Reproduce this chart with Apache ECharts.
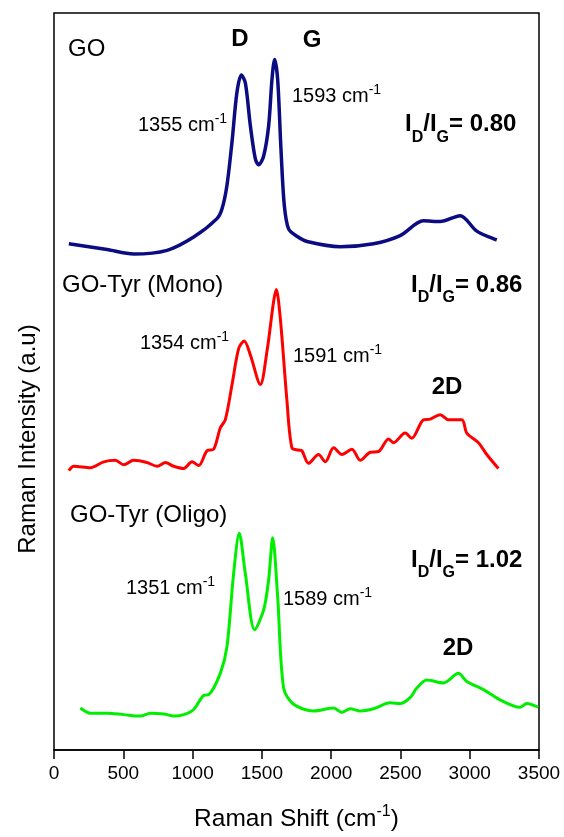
<!DOCTYPE html>
<html>
<head>
<meta charset="utf-8">
<script src="https://cdn.jsdelivr.net/npm/echarts@6/dist/echarts.min.js"></script>
<style>
html, body { margin: 0; padding: 0; background: #fff; }
#chart { width: 564px; height: 837px; }
</style>
</head>
<body>
<div id="chart"></div>
<script>
// Raman shift (cm-1) and stacked intensity (a.u.)
var goX = [107, 383, 575, 816, 1008, 1176, 1212, 1248, 1284, 1320, 1352, 1381, 1417, 1453, 1477, 1513, 1549, 1573, 1592, 1614, 1638, 1662, 1693, 1753, 1826, 2066, 2306, 2498, 2666, 2787, 2931, 3051, 3195];
var goY = [68.7, 67.9, 67.3, 67.8, 69.6, 72.1, 73.4, 76.6, 82.4, 89.2, 91.6, 90.5, 84.7, 80.2, 79.4, 80.6, 84.7, 91.0, 93.7, 91.0, 81.5, 73.9, 70.7, 69.7, 69.0, 68.3, 68.7, 69.8, 71.8, 71.7, 72.5, 70.4, 69.2];

var monoX = [107, 143, 263, 359, 443, 503, 575, 671, 744, 804, 864, 936, 996, 1044, 1104, 1152, 1200, 1236, 1285, 1333, 1373, 1417, 1489, 1537, 1585, 1604, 1633, 1681, 1717, 1765, 1789, 1837, 1909, 1958, 2018, 2078, 2150, 2210, 2282, 2342, 2414, 2450, 2534, 2582, 2666, 2715, 2787, 2846, 2943, 2979, 3063, 3123, 3207];
var monoY = [37.9, 38.5, 38.3, 39.1, 39.3, 38.7, 39.3, 39.0, 38.5, 39.0, 38.5, 38.2, 39.1, 38.6, 40.6, 40.8, 43.7, 44.8, 49.6, 54.5, 55.5, 53.6, 49.6, 54.1, 60.9, 62.5, 58.6, 47.4, 41.0, 40.7, 40.6, 38.9, 40.1, 39.1, 41.0, 40.1, 40.8, 39.3, 40.4, 40.5, 42.2, 41.7, 43.0, 42.3, 44.8, 44.9, 45.5, 44.8, 44.8, 43.0, 41.7, 40.1, 38.2];

var oligoX = [191, 263, 383, 503, 624, 696, 792, 864, 936, 1008, 1080, 1116, 1200, 1248, 1296, 1337, 1381, 1448, 1513, 1549, 1578, 1614, 1657, 1729, 1873, 2018, 2078, 2138, 2210, 2306, 2426, 2498, 2570, 2618, 2691, 2811, 2919, 2979, 3099, 3219, 3363, 3412, 3495];
var oligoY = [5.7, 5.0, 5.0, 4.8, 4.6, 5.0, 4.9, 4.6, 4.8, 5.5, 7.4, 7.5, 10.4, 14.0, 23.9, 29.4, 23.9, 16.3, 19.0, 23.1, 28.8, 20.8, 8.4, 6.2, 5.3, 5.7, 5.1, 5.6, 5.3, 5.6, 6.4, 6.3, 7.1, 8.4, 9.5, 9.1, 10.4, 9.3, 8.2, 6.8, 5.8, 6.3, 5.8];

var xTicks = [0, 500, 1000, 1500, 2000, 2500, 3000, 3500];

function pairs(xs, ys) {
    var out = [];
    for (var i = 0; i < xs.length; i++) {
        out.push([xs[i], ys[i]]);
    }
    return out;
}

var FONT = '"Liberation Sans", Arial, sans-serif';

// peak position label like "1355 cm-1" with raised -1
function peakText(x, y, num) {
    return {
        type: 'text', x: x, y: y,
        style: {
            text: '{n|' + num + ' cm}{s|-1}',
            verticalAlign: 'middle',
            fontFamily: FONT,
            rich: {
                n: { fontSize: 20, fontFamily: FONT, lineHeight: 23, verticalAlign: 'bottom', fill: '#000' },
                s: { fontSize: 14, fontFamily: FONT, lineHeight: 14, verticalAlign: 'top', fill: '#000' }
            }
        }
    };
}

// ratio label I_D/I_G= value
function ratioText(x, y, val) {
    return {
        type: 'text', x: x, y: y,
        style: {
            text: '{m|I}{b|D}{m|/I}{b|G}{m|= ' + val + '}{h| }',
            verticalAlign: 'top',
            fontFamily: FONT,
            rich: {
                m: { fontSize: 24, fontWeight: 'bold', fontFamily: FONT, lineHeight: 26, verticalAlign: 'top', fill: '#000' },
                b: { fontSize: 16, fontWeight: 'bold', fontFamily: FONT, lineHeight: 15, verticalAlign: 'bottom', fill: '#000' },
                h: { fontSize: 10, lineHeight: 33, fill: '#000' }
            }
        }
    };
}

function plainText(x, y, str, size, bold, align) {
    return {
        type: 'text', x: x, y: y,
        style: {
            text: str,
            fontSize: size,
            fontWeight: bold ? 'bold' : 'normal',
            fontFamily: FONT,
            fill: '#000',
            align: align || 'left',
            verticalAlign: 'middle'
        }
    };
}

var chart = echarts.init(document.getElementById('chart'));
var option = {
    backgroundColor: '#fff',
    animation: false,
    grid: {
        left: 54, right: 25, top: 13, bottom: 83,
        show: true, borderColor: '#000', borderWidth: 1.5
    },
    xAxis: {
        type: 'value', min: 0, max: 3500, interval: 500,
        name: '{n|Raman Shift (cm}{s|-1}{n|)}',
        nameLocation: 'middle', nameGap: 54,
        nameTextStyle: {
            rich: {
                n: { fontSize: 24.5, fontFamily: FONT, color: '#000', lineHeight: 28, verticalAlign: 'bottom' },
                s: { fontSize: 16, fontFamily: FONT, color: '#000', lineHeight: 16, verticalAlign: 'top' }
            }
        },
        axisLine: { show: true, lineStyle: { color: '#000', width: 1.5 } },
        axisTick: { show: true, inside: false, length: 9, lineStyle: { color: '#000', width: 1.5 } },
        axisLabel: {
            margin: 14, fontSize: 19, fontFamily: FONT, color: '#000',
            formatter: function (v) { return xTicks.indexOf(v) >= 0 ? String(v) : ''; }
        },
        splitLine: { show: false }
    },
    yAxis: {
        type: 'value', min: 0, max: 100, show: false
    },
    series: [
        { name: 'GO', type: 'line', data: pairs(goX, goY), showSymbol: false, smooth: 0.3,
          lineStyle: { color: '#0b0b82', width: 3.5 } },
        { name: 'GO-Tyr (Mono)', type: 'line', data: pairs(monoX, monoY), showSymbol: false, smooth: 0.3,
          lineStyle: { color: '#ff0000', width: 3 } },
        { name: 'GO-Tyr (Oligo)', type: 'line', data: pairs(oligoX, oligoY), showSymbol: false, smooth: 0.3,
          lineStyle: { color: '#00ee00', width: 3 } }
    ],
    graphic: [
        {
            type: 'text', x: 28, y: 439, rotation: Math.PI / 2,
            style: {
                text: 'Raman Intensity (a.u)', fontSize: 24, fontFamily: FONT, fill: '#000',
                align: 'center', verticalAlign: 'middle'
            }
        },
        plainText(68, 49.5, 'GO', 24, false),
        plainText(240, 39.5, 'D', 24, true, 'center'),
        plainText(312, 40.5, 'G', 24, true, 'center'),
        peakText(138, 124, '1355'),
        peakText(292, 95, '1593'),
        ratioText(405, 112.5, '0.80'),

        plainText(62, 285.5, 'GO-Tyr (Mono)', 24, false),
        peakText(140, 342, '1354'),
        peakText(293, 355, '1591'),
        ratioText(411, 273, '0.86'),
        plainText(447, 387, '2D', 24, true, 'center'),

        plainText(70, 515.5, 'GO-Tyr (Oligo)', 24, false),
        peakText(126, 587, '1351'),
        peakText(283, 598, '1589'),
        ratioText(411, 548, '1.02'),
        plainText(458, 648, '2D', 24, true, 'center')
    ]
};
chart.setOption(option);
</script>
</body>
</html>
